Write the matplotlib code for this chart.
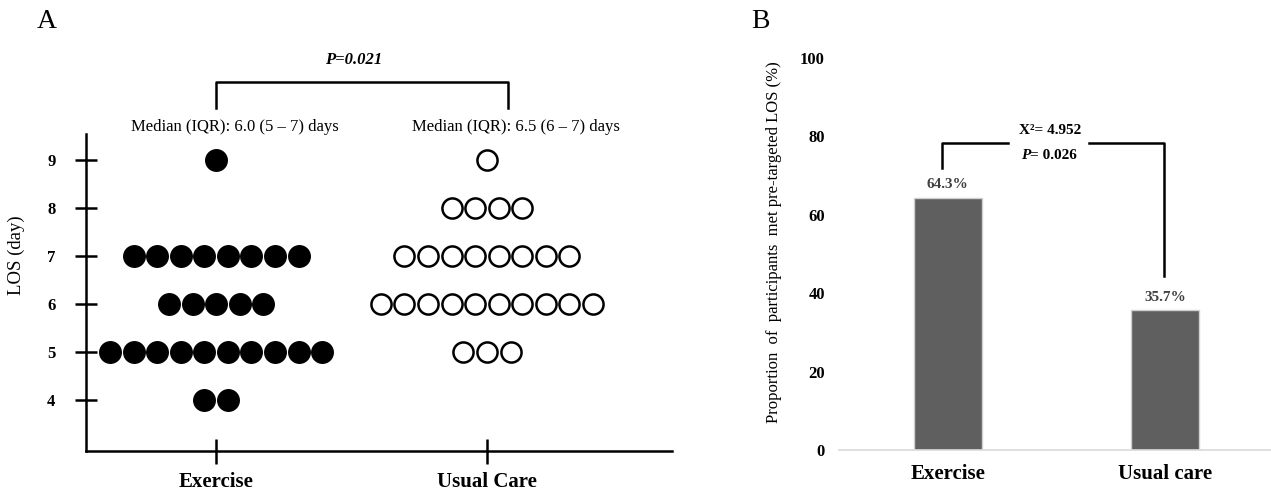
import numpy as np
import matplotlib.pyplot as plt

plt.rcParams['font.family'] = ['Liberation Serif', 'DejaVu Serif']

# panel A: LOS per participant, counted per day
los_days = [4, 5, 6, 7, 8, 9]
exercise_counts = [2, 10, 5, 8, 0, 1]
usual_counts = [0, 3, 10, 8, 4, 1]
groups_a = ['Exercise', 'Usual Care']
medians_a = ['Median (IQR): 6.0 (5 – 7) days', 'Median (IQR): 6.5 (6 – 7) days']
p_a = 'P=0.021'

# panel B: proportion meeting target LOS
groups_b = ['Exercise', 'Usual care']
met_pct = [64.3, 35.7]
chi_text = 'X\u00b2= 4.952'
p_b = '= 0.026'

fig = plt.figure(figsize=(12.71, 4.92), dpi=100)
axA = fig.add_axes([0.0677, 0.0833, 0.461, 0.644])
axB = fig.add_axes([0.660, 0.0854, 0.340, 0.797])

# ---- panel A ----
spacing = 0.087
for gi, counts in enumerate([exercise_counts, usual_counts]):
    xc = gi + 1
    for day, n in zip(los_days, counts):
        if n == 0:
            continue
        xs = xc + (np.arange(n) - (n - 1) / 2) * spacing
        ys = np.full(n, day)
        if gi == 0:
            axA.plot(xs, ys, 'o', ms=15.5, mfc='black', mec='black', ls='none')
        else:
            axA.plot(xs, ys, 'o', ms=14.5, mfc='white', mec='black', mew=1.8, ls='none')

axA.set_xlim(0.52, 2.683)
axA.set_ylim(2.94, 9.54)
axA.set_yticks(los_days)
axA.set_yticklabels([str(d) for d in los_days], fontweight='bold', fontsize=12)
axA.set_xticks([1, 2])
axA.set_xticklabels(groups_a, fontweight='bold', fontsize=15)
axA.tick_params(axis='y', direction='inout', length=16, width=1.8, pad=14)
axA.tick_params(axis='x', direction='inout', length=18, width=1.8, pad=6)
for s in ['top', 'right']:
    axA.spines[s].set_visible(False)
for s in ['left', 'bottom']:
    axA.spines[s].set_linewidth(1.8)
axA.set_ylabel('LOS (day)', fontsize=13.5)
axA.yaxis.set_label_coords(-0.104, 0.618)

axA.text(1.07, 9.69, medians_a[0], ha='center', va='center', fontsize=12)
axA.text(2.107, 9.69, medians_a[1], ha='center', va='center', fontsize=12)
axA.plot([1, 1, 2.077, 2.077], [10.08, 10.625, 10.625, 10.08],
         color='black', lw=1.8, clip_on=False)
axA.text(1.506, 11.08, p_a, ha='center', va='center', fontsize=12,
         fontweight='bold', fontstyle='italic')
fig.text(47 / 1271, 1 - 22 / 492, 'A', ha='center', va='center', fontsize=20)

# ---- panel B ----
axB.bar(range(len(groups_b)), met_pct, width=0.31, color='#5f5f5f',
        edgecolor='#d0d0d0', lw=1)
for i, v in enumerate(met_pct):
    axB.text(i, v + 3.3, f'{v}%', ha='center', va='center', fontsize=11,
             fontweight='bold', color='#404040')
axB.set_xlim(-0.502, 1.488)
axB.set_ylim(0, 100)
axB.set_yticks(range(0, 101, 20))
axB.set_yticklabels([str(v) for v in range(0, 101, 20)], fontweight='bold', fontsize=12)
axB.set_xticks(range(len(groups_b)))
axB.set_xticklabels(groups_b, fontweight='bold', fontsize=15)
axB.tick_params(axis='both', length=0)
axB.tick_params(axis='y', pad=10)
axB.tick_params(axis='x', pad=10)
for s in ['top', 'right', 'left']:
    axB.spines[s].set_visible(False)
axB.spines['bottom'].set_color('#d9d9d9')
axB.spines['bottom'].set_linewidth(1.2)
axB.set_ylabel('Proportion  of  participants  met pre-targeted LOS (%)', fontsize=12)
axB.yaxis.set_label_coords(-0.132, 0.53)

axB.plot([-0.028, -0.028, 0.276], [71.9, 78.3, 78.3], color='black', lw=1.8, clip_on=False)
axB.plot([0.65, 0.995, 0.995], [78.3, 78.3, 44.4], color='black', lw=1.8, clip_on=False)
axB.text(0.47, 81.4, chi_text, ha='center', va='center', fontsize=11, fontweight='bold')
axB.text(0.378, 75.0, 'P', ha='right', va='center', fontsize=11,
         fontweight='bold', fontstyle='italic')
axB.text(0.378, 75.0, p_b, ha='left', va='center', fontsize=11, fontweight='bold')
fig.text(760 / 1271, 1 - 22 / 492, 'B', ha='center', va='center', fontsize=20)

fig.savefig('out.png', dpi=100)
